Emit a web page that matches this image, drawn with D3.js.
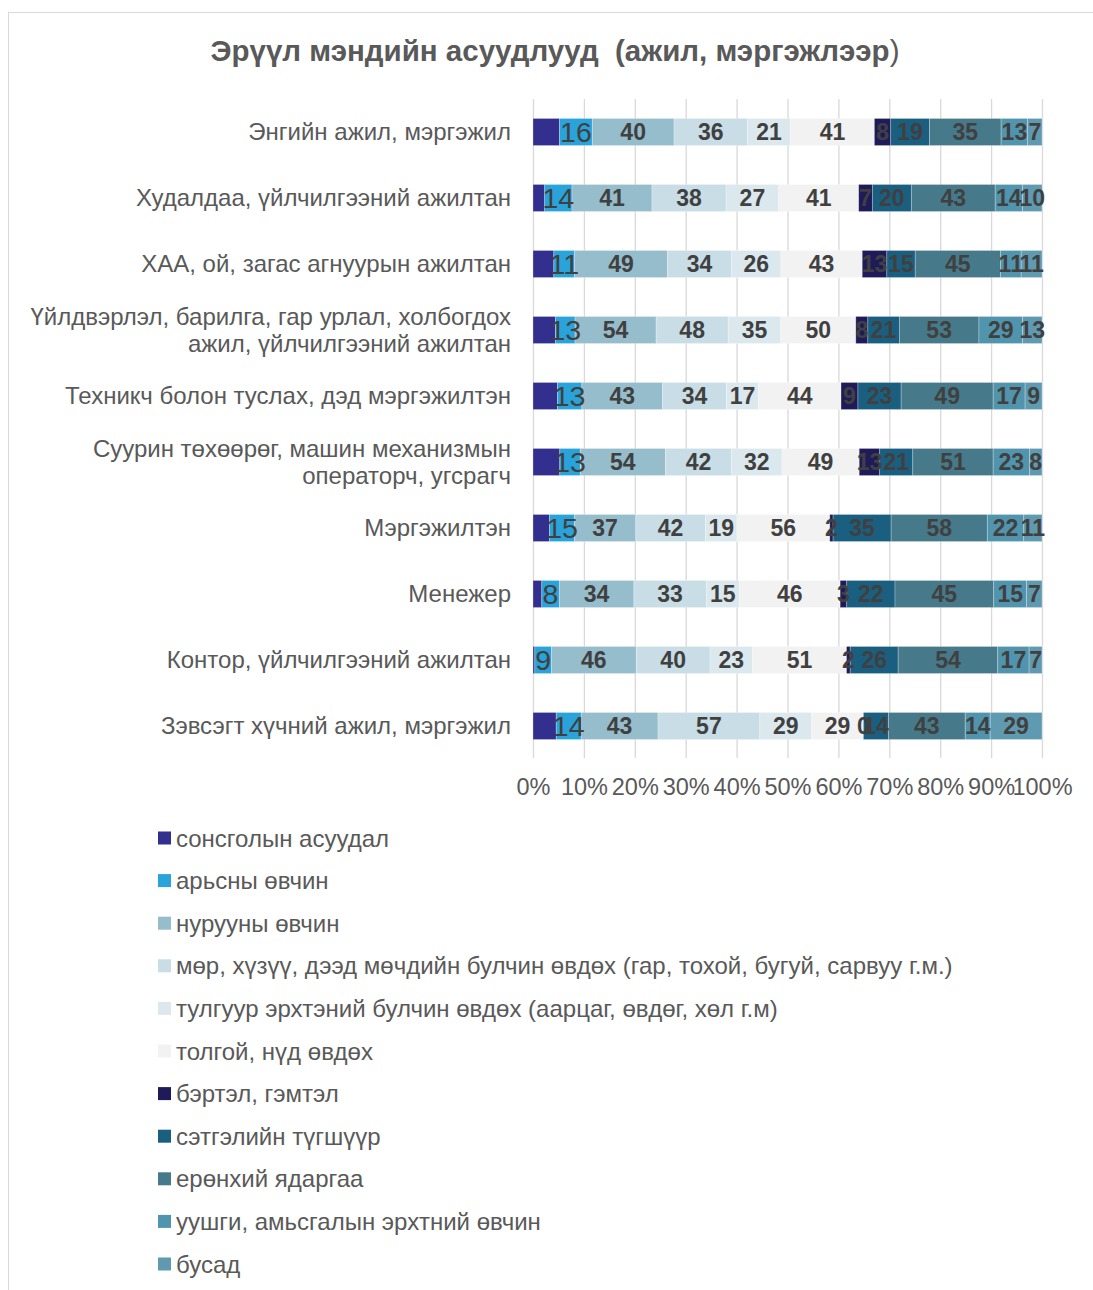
<!DOCTYPE html>
<html lang="mn">
<head>
    <meta charset="UTF-8">
    <title>Эрүүл мэндийн асуудлууд</title>
    <script src="https://d3js.org/d3.v7.min.js"></script>
    <style>
        body {
            margin: 0;
            background: #fff;
            font-family: "Liberation Sans", Arial, sans-serif;
        }
        .cat-label, .legend-label {
            font-size: 24px;
            fill: #595959;
        }
        .tick-label {
            font-size: 23.5px;
            fill: #595959;
        }
        .val-label {
            fill: #404040;
            text-anchor: middle;
        }
        .chart-title {
            font-size: 29.5px;
            font-weight: bold;
            fill: #595959;
        }
    </style>
</head>
<body>
    <svg id="chart"></svg>

    <script>
        // Categories (top to bottom), "|" marks a line break
        const categories = [
            "Энгийн ажил, мэргэжил",
            "Худалдаа, үйлчилгээний ажилтан",
            "ХАА, ой, загас агнуурын ажилтан",
            "Үйлдвэрлэл, барилга, гар урлал, холбогдох|ажил, үйлчилгээний ажилтан",
            "Техникч болон туслах, дэд мэргэжилтэн",
            "Суурин төхөөрөг, машин механизмын|операторч, угсрагч",
            "Мэргэжилтэн",
            "Менежер",
            "Контор, үйлчилгээний ажилтан",
            "Зэвсэгт хүчний ажил, мэргэжил"
        ];

        const seriesNames = [
            "сонсголын асуудал",
            "арьсны өвчин",
            "нурууны өвчин",
            "мөр, хүзүү, дээд мөчдийн булчин өвдөх (гар, тохой, бугуй, сарвуу г.м.)",
            "тулгуур эрхтэний булчин өвдөх (аарцаг, өвдөг, хөл г.м)",
            "толгой, нүд өвдөх",
            "бэртэл, гэмтэл",
            "сэтгэлийн түгшүүр",
            "ерөнхий ядаргаа",
            "уушги, амьсгалын эрхтний өвчин",
            "бусад"
        ];

        // Series values, one per category
        const hearing   = [13, 6, 11, 15, 13, 17, 10, 4, 1, 13];
        const skin      = [16, 14, 11, 13, 13, 13, 15, 8, 9, 14];
        const back      = [40, 41, 49, 54, 43, 54, 37, 34, 46, 43];
        const upperLimb = [36, 38, 34, 48, 34, 42, 42, 33, 40, 57];
        const lowerLimb = [21, 27, 26, 35, 17, 32, 19, 15, 23, 29];
        const headEye   = [41, 41, 43, 50, 44, 49, 56, 46, 51, 29];
        const injury    = [8, 7, 13, 8, 9, 13, 2, 3, 2, 0];
        const anxiety   = [19, 20, 15, 21, 23, 21, 35, 22, 26, 14];
        const fatigue   = [35, 43, 45, 53, 49, 51, 58, 45, 54, 43];
        const lung      = [13, 14, 11, 29, 17, 23, 22, 15, 17, 14];
        const other     = [7, 10, 11, 13, 9, 8, 11, 7, 7, 29];

        const tickLabels = ["0%", "10%", "20%", "30%", "40%", "50%", "60%", "70%", "80%", "90%", "100%"];

        const seriesValues = [hearing, skin, back, upperLimb, lowerLimb, headEye,
                              injury, anxiety, fatigue, lung, other];
        const colors = ["#332f8f", "#29a3da", "#96bdcc", "#c8dde5", "#dbe8ee", "#f2f2f2",
                        "#1f1b5a", "#1a5e80", "#467a8a", "#5194ad", "#5f9ab0"];

        // rows for d3.stack, normalised to shares
        const keys = seriesNames.map((d, i) => "s" + i);
        const rows = categories.map((c, ci) => {
            const row = { cat: c };
            const total = d3.sum(seriesValues, s => s[ci]);
            seriesValues.forEach((s, si) => {
                row["s" + si] = s[ci] / total;
                row["v" + si] = s[ci];
            });
            return row;
        });

        const width = 1093;
        const height = 1290;

        const svg = d3.select("#chart")
            .attr("width", width)
            .attr("height", height);

        // outer border
        svg.append("rect")
            .attr("x", 8.5)
            .attr("y", 12.5)
            .attr("width", 1200)
            .attr("height", 1400)
            .attr("fill", "none")
            .attr("stroke", "#d9d9d9");

        // title
        const title = svg.append("text")
            .attr("class", "chart-title")
            .attr("x", 555)
            .attr("y", 61)
            .attr("text-anchor", "middle");
        title.append("tspan").text("Эрүүл мэндийн асуудлууд\u00a0\u00a0(ажил, мэргэжлээр");
        title.append("tspan").attr("font-weight", "normal").text(")");

        const x = d3.scaleLinear()
            .domain([0, 1])
            .range([533, 1042]);

        const y = d3.scaleBand()
            .domain(categories)
            .range([99, 759])
            .paddingInner(0.59)
            .paddingOuter(0.295);

        // gridlines
        svg.append("g")
            .selectAll("line")
            .data(x.ticks(10))
            .join("line")
            .attr("x1", d => x(d) + 0.5)
            .attr("x2", d => x(d) + 0.5)
            .attr("y1", 99)
            .attr("y2", 758)
            .attr("stroke", "#d9d9d9")
            .attr("stroke-width", 1.3);

        // x axis labels
        const xAxis = svg.append("g")
            .attr("transform", "translate(0,795)")
            .call(d3.axisBottom(x).ticks(10).tickSize(0).tickPadding(0)
                .tickFormat((d, i) => tickLabels[i]));
        xAxis.select(".domain").remove();
        xAxis.selectAll("text")
            .attr("class", "tick-label")
            .attr("dy", 0)
            .style("font-family", "Liberation Sans, Arial, sans-serif");

        // category labels
        const catG = svg.append("g");
        categories.forEach(c => {
            const lines = c.split("|");
            const cy = y(c) + y.bandwidth() / 2;
            const t = catG.append("text")
                .attr("class", "cat-label")
                .attr("text-anchor", "end")
                .attr("x", 511)
                .attr("y", cy + 8 - (lines.length - 1) * 13.5);
            lines.forEach((l, i) => {
                t.append("tspan")
                    .attr("x", 511)
                    .attr("dy", i === 0 ? 0 : 27)
                    .text(l);
            });
        });

        // stacked bars
        const stacked = d3.stack().keys(keys)(rows);

        const layers = svg.append("g")
            .selectAll("g")
            .data(stacked)
            .join("g")
            .attr("fill", (d, i) => colors[i]);

        layers.selectAll("rect")
            .data(d => d)
            .join("rect")
            .attr("x", d => x(d[0]))
            .attr("y", d => y(d.data.cat))
            .attr("width", d => x(d[1]) - x(d[0]))
            .attr("height", y.bandwidth())
            .attr("stroke", "#ffffff")
            .attr("stroke-opacity", 0.35)
            .attr("stroke-width", 0.75);

        // value labels (first series has none)
        stacked.forEach((layer, si) => {
            if (si === 0) return;
            svg.append("g")
                .selectAll("text")
                .data(layer)
                .join("text")
                .attr("class", "val-label")
                .attr("x", d => (x(d[0]) + x(d[1])) / 2)
                .attr("y", d => y(d.data.cat) + y.bandwidth() / 2 + (si === 1 ? 10 : 8))
                .style("font-size", si === 1 ? "28.5px" : "23px")
                .style("font-weight", si === 1 ? "normal" : "bold")
                .text(d => d.data["v" + si]);
        });

        // legend
        const legend = svg.append("g")
            .selectAll("g")
            .data(seriesNames)
            .join("g")
            .attr("transform", (d, i) => `translate(158,${838 + i * 42.6})`);

        legend.append("rect")
            .attr("x", 0)
            .attr("y", -6.5)
            .attr("width", 13)
            .attr("height", 13)
            .attr("fill", (d, i) => colors[i]);

        legend.append("text")
            .attr("class", "legend-label")
            .attr("x", 18)
            .attr("y", 8.5)
            .text(d => d);
    </script>
</body>
</html>
